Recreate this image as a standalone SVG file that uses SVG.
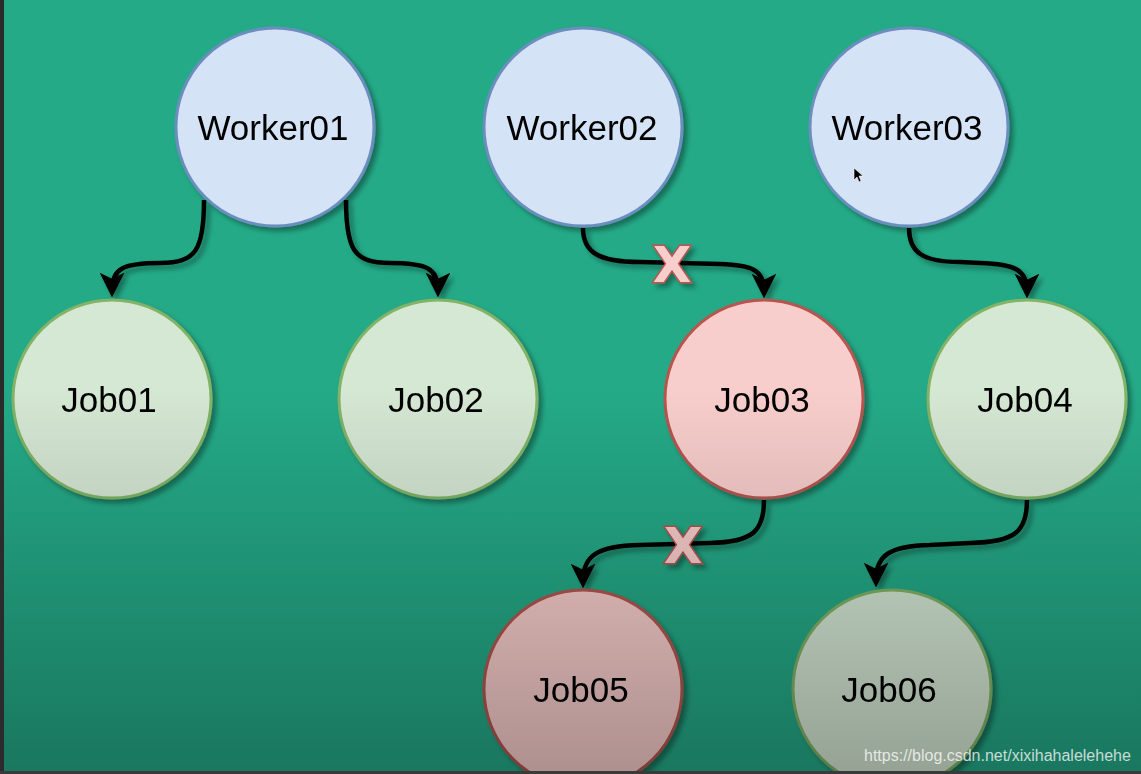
<svg xmlns="http://www.w3.org/2000/svg" width="1141" height="774" viewBox="0 0 1141 774">
<style>
.node circle{stroke-width:3}
.worker circle{fill:#d4e3f6;stroke:#6c8ebf}
.job circle{fill:#d5e8d4;stroke:#82b366}
.bad circle{fill:#f8cecc;stroke:#b85450}
.lbl{font-family:"Liberation Sans",Arial,sans-serif;font-size:35px;fill:#000;text-anchor:middle;dominant-baseline:central}
.edge{fill:none;stroke:#000;stroke-width:4.5;marker-end:url(#arr)}
.x{font-family:"DejaVu Sans",sans-serif;font-weight:bold;font-size:50px;fill:#f8cecc;stroke:#b85450;stroke-width:3;text-anchor:middle;paint-order:stroke}
</style>
<defs>
<filter id="sh" x="-20%" y="-20%" width="150%" height="150%">
<feDropShadow dx="4" dy="4" stdDeviation="2.5" flood-color="#000" flood-opacity="0.35"/>
</filter>
<marker id="arr" viewBox="0 0 20 20" refX="14" refY="10" markerWidth="5.5" markerHeight="5.5" markerUnits="strokeWidth" orient="auto">
<path d="M0,0 L20,10 L0,20 L5,10 Z" fill="#000"/>
</marker>
<linearGradient id="dark" x1="0" y1="0" x2="0" y2="1">
<stop offset="0" stop-color="#000" stop-opacity="0"/>
<stop offset="0.5" stop-color="#000" stop-opacity="0"/>
<stop offset="1" stop-color="#000" stop-opacity="0.3"/>
</linearGradient>
</defs>
<rect width="1141" height="774" fill="#24aa87"/>
<g id="connectors" filter="url(#sh)">
<path class="edge" d="M204,200 C204,250 196,263 160,263 C124,263 112,268 112,290"/>
<path class="edge" d="M346,200 C346,250 354,263 390,263 C426,263 438,268 438,290"/>
<path class="edge" d="M583,228 C583,252 598,262 640,262 L720,264 C752,265 764,270 764,291"/>
<path class="edge" d="M909,228 C909,252 922,262 960,262 L980,263 C1015,264 1027,270 1027,291"/>
<path class="edge" d="M764,500 C764,532 752,542 710,543 L640,545 C598,546 583,555 583,581"/>
<path class="edge" d="M1027,500 C1027,532 1015,542 970,543 L930,545 C890,546 876,555 876,580"/>
</g>
<g id="worker01" class="node worker" filter="url(#sh)"><circle cx="275" cy="127" r="99"/><text class="lbl" x="273" y="127">Worker01</text></g>
<g id="worker02" class="node worker" filter="url(#sh)"><circle cx="583" cy="127" r="99"/><text class="lbl" x="582" y="127">Worker02</text></g>
<g id="worker03" class="node worker" filter="url(#sh)"><circle cx="909" cy="127" r="99"/><text class="lbl" x="907" y="127">Worker03</text></g>
<g id="job01" class="node job" filter="url(#sh)"><circle cx="112" cy="399" r="99"/><text class="lbl" x="109" y="399">Job01</text></g>
<g id="job02" class="node job" filter="url(#sh)"><circle cx="438" cy="399" r="99"/><text class="lbl" x="436" y="399">Job02</text></g>
<g id="job03" class="node bad" filter="url(#sh)"><circle cx="764" cy="399" r="99"/><text class="lbl" x="762" y="399">Job03</text></g>
<g id="job04" class="node job" filter="url(#sh)"><circle cx="1027" cy="399" r="99"/><text class="lbl" x="1025" y="399">Job04</text></g>
<g id="job05" class="node bad" filter="url(#sh)"><circle cx="583" cy="689" r="99"/><text class="lbl" x="581" y="689">Job05</text></g>
<g id="job06" class="node job" filter="url(#sh)"><circle cx="892" cy="689" r="99"/><text class="lbl" x="889" y="689">Job06</text></g>
<g id="marks" filter="url(#sh)">
<text class="x" x="672" y="282">X</text>
<text class="x" x="683" y="563">X</text>
</g>
<path d="M854,168 L854,180 L857,177 L859,182 L861,181 L859,176 L863,176 Z" fill="#000" stroke="#fff" stroke-width="0.6"/>
<rect width="1141" height="774" fill="url(#dark)"/>
<rect x="0" y="0" width="4" height="774" fill="#2b2b2b"/>
<rect x="0" y="771" width="1141" height="3" fill="#3a3a3a"/>
<text x="864" y="761" font-family="'Liberation Sans',Arial,sans-serif" font-size="16" fill="#fff" fill-opacity="0.75">https://blog.csdn.net/xixihahalelehehe</text>
</svg>
